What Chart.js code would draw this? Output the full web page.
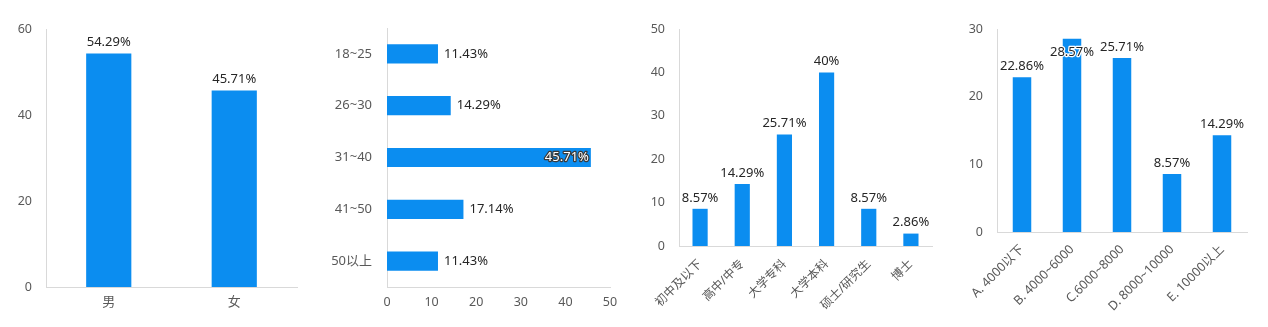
<!DOCTYPE html>
<html>
<head>
<meta charset="utf-8">
<script src="https://cdn.jsdelivr.net/npm/chart.js@4/dist/chart.umd.min.js"></script>
<style>
    body { margin: 0; background: #fff; }
    #wrap { position: relative; width: 1268px; height: 327px; overflow: hidden; }
    #wrap canvas { position: absolute; top: 0; }
</style>
</head>
<body>
<div id="wrap">
    <canvas id="gender" width="320" height="327" style="left:0"></canvas>
    <canvas id="age" width="320" height="327" style="left:320px"></canvas>
    <canvas id="edu" width="310" height="327" style="left:640px"></canvas>
    <canvas id="income" width="318" height="327" style="left:950px"></canvas>
</div>
<script>
// 性别
const genderLabels = ['男', '女'];
const genderValues = [54.29, 45.71];

// 年龄
const ageLabels = ['18~25', '26~30', '31~40', '41~50', '50以上'];
const ageValues = [11.43, 14.29, 45.71, 17.14, 11.43];

// 学历
const eduLabels = ['初中及以下', '高中/中专', '大学专科', '大学本科', '硕士/研究生', '博士'];
const eduValues = [8.57, 14.29, 25.71, 40, 8.57, 2.86];

// 月收入
const incomeLabels = ['A. 4000以下', 'B. 4000~6000', 'C.6000~8000', 'D. 8000~10000', 'E. 10000以上'];
const incomeValues = [22.86, 28.57, 25.71, 8.57, 14.29];

const BAR_COLOR = '#0B8DF0';
const FONT = '"Noto Sans", "Noto Sans CJK SC", sans-serif';
const TICK_COLOR = '#595959';
const AXIS_COLOR = '#d9d9d9';

function outlinedText(ctx, text, x, y, fill, stroke) {
    ctx.lineWidth = 2.5;
    ctx.lineJoin = 'round';
    ctx.strokeStyle = stroke;
    ctx.strokeText(text, x, y);
    ctx.fillStyle = fill;
    ctx.fillText(text, x, y);
}

// percentage label at the end of each bar
const valueLabels = {
    id: 'valueLabels',
    afterDatasetsDraw(chart) {
        const ctx = chart.ctx;
        const area = chart.chartArea;
        const horizontal = chart.options.indexAxis === 'y';
        const values = chart.data.datasets[0].data;
        ctx.save();
        ctx.font = '13px ' + FONT;
        ctx.textBaseline = 'middle';
        chart.getDatasetMeta(0).data.forEach((bar, i) => {
            const text = values[i] + '%';
            const w = ctx.measureText(text).width;
            if (horizontal) {
                const x = bar.x + 6;
                if (x + w > area.right) {
                    // no room past the end, put it inside the bar
                    ctx.textAlign = 'right';
                    outlinedText(ctx, text, bar.x - 2, bar.y, '#ffffff', '#3a3a3a');
                } else {
                    ctx.textAlign = 'left';
                    ctx.fillStyle = '#262626';
                    ctx.fillText(text, x, bar.y);
                }
            } else {
                ctx.textAlign = 'center';
                const y = bar.y - 11;
                if (y - 7 < area.top) {
                    outlinedText(ctx, text, bar.x, bar.y + 14, '#262626', '#ffffff');
                } else {
                    ctx.fillStyle = '#262626';
                    ctx.fillText(text, bar.x, y);
                }
            }
        });
        ctx.restore();
    }
};

function makeChart(id, cfg) {
    const horizontal = !!cfg.horizontal;
    const catAxis = {
        grid: { display: false, drawTicks: false },
        border: { display: true, color: AXIS_COLOR },
        ticks: {
            color: TICK_COLOR,
            font: { family: FONT, size: cfg.catSize || 13 },
            padding: cfg.catPad || 7,
            autoSkip: false,
            maxRotation: cfg.rotate || 0,
            minRotation: cfg.rotate || 0
        }
    };
    const valAxis = {
        min: 0,
        max: cfg.max,
        grid: { display: false, drawTicks: false },
        border: { display: true, color: AXIS_COLOR },
        ticks: {
            stepSize: cfg.step,
            color: TICK_COLOR,
            font: { family: FONT, size: 12.5 },
            padding: horizontal ? 8 : 14
        }
    };
    const xAxis = horizontal ? valAxis : catAxis;
    const yAxis = horizontal ? catAxis : valAxis;
    xAxis.afterFit = s => { s.height = cfg.xHeight; s.paddingLeft = 0; s.paddingRight = 0; };
    yAxis.afterFit = s => { s.width = cfg.yWidth; s.paddingTop = 0; s.paddingBottom = 0; };

    return new Chart(document.getElementById(id), {
        type: 'bar',
        data: {
            labels: cfg.labels,
            datasets: [{
                data: cfg.values,
                backgroundColor: BAR_COLOR,
                barPercentage: cfg.bar,
                categoryPercentage: 1
            }]
        },
        options: {
            indexAxis: horizontal ? 'y' : 'x',
            responsive: false,
            animation: false,
            layout: { padding: { top: cfg.top, right: cfg.right, left: 0, bottom: 0 } },
            plugins: { legend: { display: false }, tooltip: { enabled: false } },
            scales: { x: xAxis, y: yAxis }
        },
        plugins: [valueLabels]
    });
}

makeChart('gender', {
    labels: genderLabels, values: genderValues, max: 60, step: 20,
    bar: 0.36, top: 29, right: 23, yWidth: 46, xHeight: 40
});

makeChart('age', {
    horizontal: true, labels: ageLabels, values: ageValues, max: 50, step: 10,
    bar: 0.37, top: 28, right: 30, yWidth: 67, xHeight: 40, catPad: 15
});

makeChart('edu', {
    labels: eduLabels, values: eduValues, max: 50, step: 10, rotate: 45,
    bar: 0.36, top: 29, right: 18, yWidth: 39, xHeight: 81, catSize: 12, catPad: 11
});

makeChart('income', {
    labels: incomeLabels, values: incomeValues, max: 30, step: 10, rotate: 45,
    bar: 0.37, top: 29, right: 21, yWidth: 47, xHeight: 95, catSize: 12.5, catPad: 10
});
</script>
</body>
</html>
